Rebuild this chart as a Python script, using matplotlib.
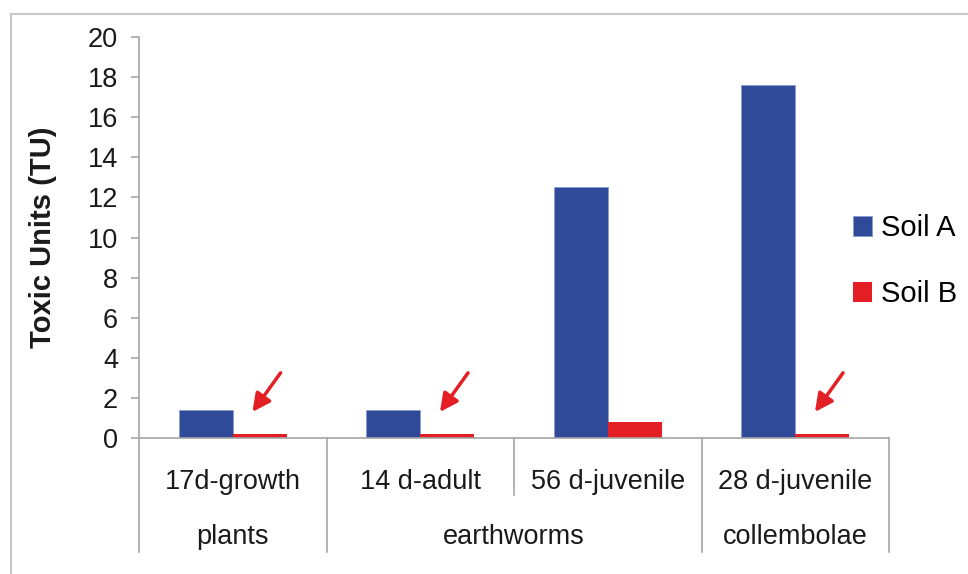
import matplotlib.pyplot as plt
from matplotlib.lines import Line2D

plt.rcParams["font.family"] = ["Liberation Sans", "DejaVu Sans"]

# data
tests = ["17d-growth", "14 d-adult", "56 d-juvenile", "28 d-juvenile"]
groups = ["plants", "earthworms", "collembolae"]
group_centers = [0, 1.5, 3]
soil_a = [1.4, 1.4, 12.5, 17.6]
soil_b = [0.2, 0.2, 0.8, 0.2]
arrow_cats = [0, 1, 3]
yticks = list(range(0, 21, 2))

blue = "#2F4A99"
red = "#E31E24"
grey = "#A6A6A6"
txt = "#1A1A1A"

fig = plt.figure(figsize=(9.68, 5.74), dpi=100)
ax = fig.add_axes([0.1436, 0.2369, 0.7748, 0.6986])

w = 0.288
x = list(range(len(tests)))
ax.bar([i - w / 2 for i in x], soil_a, w, color=blue, label="Soil A",
       edgecolor="#8A9BD0", linewidth=0.6)
ax.bar([i + w / 2 for i in x], soil_b, w, color=red, label="Soil B")

ax.set_xlim(-0.5, 3.5)
ax.set_ylim(0, 20)
ax.set_yticks(yticks)
ax.set_xticks([])

for s in ["top", "right"]:
    ax.spines[s].set_visible(False)
for s in ["left", "bottom"]:
    ax.spines[s].set_color(grey)
    ax.spines[s].set_linewidth(1.2)
ax.tick_params(axis="y", direction="out", length=6, width=1.2, color=grey,
               labelsize=19.5, labelcolor=txt, pad=9)
ax.set_ylabel("Toxic Units (TU)", fontsize=21, fontweight="bold", color=txt,
              labelpad=22)

# two-level category axis
tr = ax.get_xaxis_transform()
for sx, low in [(-0.5, -0.284), (0.5, -0.284), (1.5, -0.142),
                (2.5, -0.284), (3.5, -0.284)]:
    ax.add_line(Line2D([sx, sx], [0, low], transform=tr, color=grey,
                       lw=1.2, clip_on=False))
for i, t in enumerate(tests):
    ax.text(i, -0.11, t, transform=tr, ha="center", va="center",
            fontsize=19.5, color=txt)
for c, g in zip(group_centers, groups):
    ax.text(c, -0.247, g, transform=tr, ha="center", va="center",
            fontsize=19.5, color=txt)

# arrows pointing at the small Soil B bars
for c in arrow_cats:
    ax.annotate("", xy=(c + 0.105, 1.3), xytext=(c + 0.255, 3.25),
                arrowprops=dict(arrowstyle="-|>", color=red, lw=2.5,
                                mutation_scale=27, shrinkA=0, shrinkB=0))

ax.legend(loc="upper left", bbox_to_anchor=(853 / 968, 1 - 214 / 574),
          bbox_transform=fig.transFigure, frameon=False, fontsize=21,
          handlelength=0.66, handleheight=0.66, handletextpad=0.3,
          labelspacing=1.3, borderpad=0, borderaxespad=0)

# outer frame (top and left edges)
fig.add_artist(Line2D([11 / 968, 1], [1 - 14 / 574] * 2,
                      transform=fig.transFigure, color="#C8C8C8", lw=1.5))
fig.add_artist(Line2D([11 / 968] * 2, [0, 1 - 14 / 574],
                      transform=fig.transFigure, color="#C8C8C8", lw=1.5))

fig.savefig("out.png", dpi=100)
